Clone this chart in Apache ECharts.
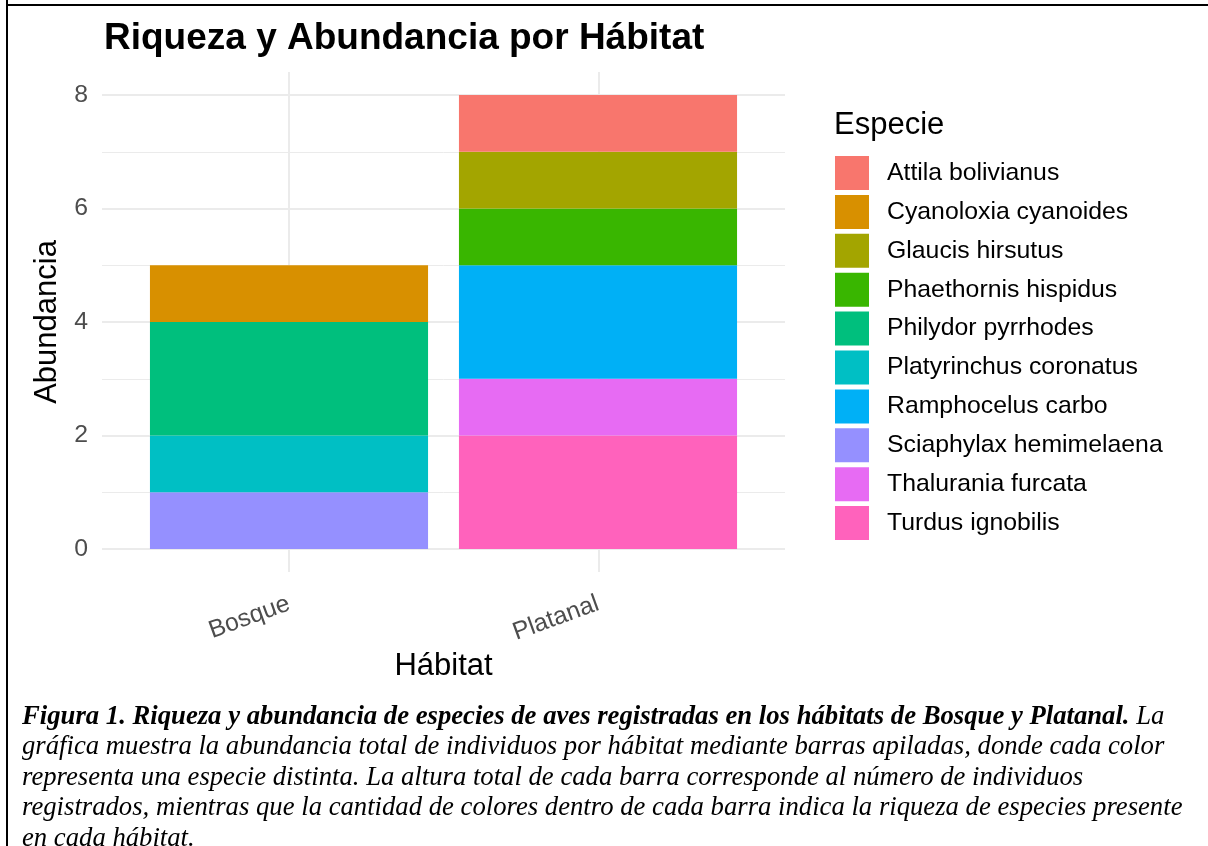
<!DOCTYPE html>
<html>
<head>
<meta charset="utf-8">
<script src="https://cdn.jsdelivr.net/npm/echarts@6/dist/echarts.min.js"></script>
<style>
  body { margin: 0; background: #fff; }
  #main { position: absolute; left: 0; top: 0; width: 1208px; height: 846px; }
  .vline { position: absolute; left: 6px; top: 0; width: 2px; height: 846px; background: #000; }
  .hline { position: absolute; left: 6px; top: 4px; width: 1202px; height: 2px; background: #000; }
  #caption {
    position: absolute; left: 22px; top: 700px; width: 1180px;
    font-family: 'Liberation Serif', 'Times New Roman', serif;
    font-style: italic; font-size: 26.7px; line-height: 30.4px; color: #000;
    white-space: nowrap;
  }
</style>
</head>
<body>
<div id="main"></div>
<div class="vline"></div>
<div class="hline"></div>
<div id="caption"><b>Figura 1. Riqueza y abundancia de especies de aves registradas en los hábitats de Bosque y Platanal.</b> La<br>gráfica muestra la abundancia total de individuos por hábitat mediante barras apiladas, donde cada color<br>representa una especie distinta. La altura total de cada barra corresponde al número de individuos<br>registrados, mientras que la cantidad de colores dentro de cada barra indica la riqueza de especies presente<br>en cada hábitat.</div>
<script>
// datos
var habitats = ['Bosque', 'Platanal']
var especies = ['Attila bolivianus', 'Cyanoloxia cyanoides', 'Glaucis hirsutus', 'Phaethornis hispidus',
  'Philydor pyrrhodes', 'Platyrinchus coronatus', 'Ramphocelus carbo', 'Sciaphylax hemimelaena',
  'Thalurania furcata', 'Turdus ignobilis']
var bosque = [0, 1, 0, 0, 2, 1, 0, 1, 0, 0]
var platanal = [1, 0, 1, 1, 0, 0, 2, 0, 1, 2]
var colores = ['#F8766D', '#D89000', '#A3A500', '#39B600', '#00BF7D', '#00BFC4', '#00B0F6', '#9590FF', '#E76BF3', '#FF62BC']
var yTicks = [0, 2, 4, 6, 8]

var font = 'Liberation Sans, Arial, sans-serif'

// ggplot apila el primer nivel arriba, así que las series van de abajo hacia arriba
var series = []
for (var i = especies.length - 1; i >= 0; i--) {
  series.push({
    name: especies[i],
    type: 'bar',
    stack: 'total',
    xAxisIndex: 2,
    yAxisIndex: 2,
    barWidth: '90%',
    itemStyle: { color: colores[i] },
    data: [bosque[i], platanal[i]]
  })
}

var myChart = echarts.init(document.getElementById('main'))
myChart.setOption({
  animation: false,
  title: [
    {
      text: 'Riqueza y Abundancia por Hábitat',
      left: 99, top: 15,
      textStyle: { fontFamily: font, fontSize: 37, fontWeight: 'bold', color: '#000' }
    },
    {
      text: 'Especie',
      left: 829, top: 105,
      textStyle: { fontFamily: font, fontSize: 31, fontWeight: 'normal', color: '#000' }
    }
  ],
  legend: {
    data: especies,
    orient: 'vertical',
    left: 830, top: 151,
    itemWidth: 34, itemHeight: 34, itemGap: 4.9,
    icon: 'rect',
    textStyle: { fontFamily: font, fontSize: 24.8, color: '#000', padding: [0, 0, 0, 13] }
  },
  grid: [
    // fondo: líneas verticales, con la expansión de ggplot
    { left: 102, right: 423, top: 72, bottom: 274 },
    // líneas horizontales y eje y
    { left: 102, right: 423, top: 95, bottom: 297 },
    // barras
    { left: 134.5, right: 455.5, top: 95, bottom: 297 }
  ],
  xAxis: [
    {
      gridIndex: 0, type: 'value', min: 0.4, max: 2.6,
      axisLine: { show: false },
      axisTick: { show: false, customValues: [1, 2] },
      axisLabel: { show: false, customValues: [1, 2] },
      splitLine: { show: true, lineStyle: { color: '#EBEBEB', width: 2 } }
    },
    { gridIndex: 1, type: 'value', show: false, min: 0, max: 1 },
    {
      gridIndex: 2, type: 'category', data: habitats,
      axisLine: { show: false },
      axisTick: { show: false },
      splitLine: { show: false },
      axisLabel: { rotate: 20, margin: 54, fontFamily: font, fontSize: 24.8, color: '#4D4D4D' },
      name: 'Hábitat', nameLocation: 'middle', nameGap: 95,
      nameTextStyle: { fontFamily: font, fontSize: 31, color: '#000' }
    }
  ],
  yAxis: [
    { gridIndex: 0, type: 'value', show: false, min: -0.4, max: 8.4 },
    {
      gridIndex: 1, type: 'value', min: yTicks[0], max: yTicks[yTicks.length - 1], interval: 2,
      splitNumber: 4,
      axisLine: { show: false },
      axisTick: { show: false },
      axisLabel: { margin: 14, fontFamily: font, fontSize: 24.8, color: '#4D4D4D' },
      splitLine: { show: true, lineStyle: { color: '#EBEBEB', width: 2 } },
      minorTick: { show: false, splitNumber: 2 },
      minorSplitLine: { show: true, lineStyle: { color: '#EBEBEB', width: 1 } },
      name: 'Abundancia', nameLocation: 'middle', nameGap: 36, nameRotate: 90,
      nameTextStyle: { fontFamily: font, fontSize: 31, color: '#000' }
    },
    { gridIndex: 2, type: 'value', show: false, min: 0, max: 8 }
  ],
  series: series
})
</script>
</body>
</html>
